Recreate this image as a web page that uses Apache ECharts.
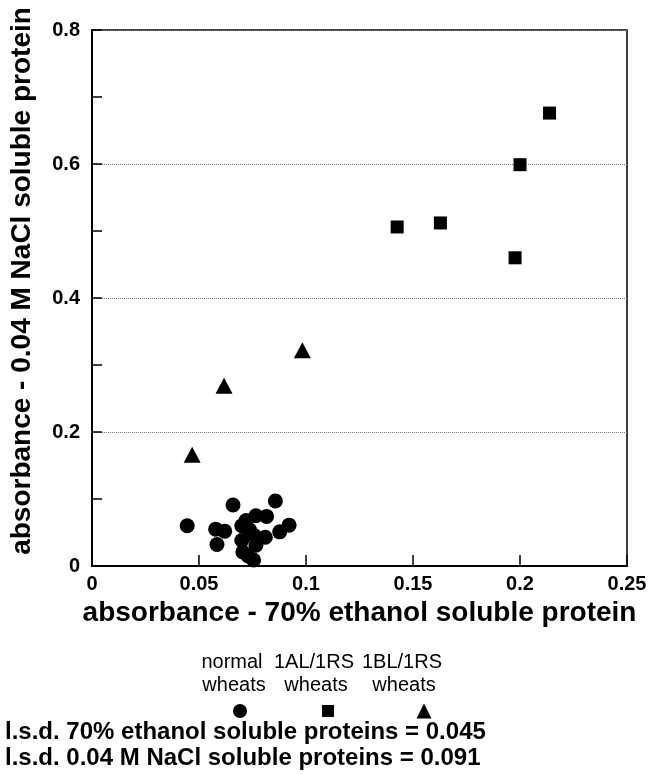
<!DOCTYPE html>
<html>
<head>
<meta charset="utf-8">
<script src="https://cdn.jsdelivr.net/npm/echarts@6/dist/echarts.min.js"></script>
<style>
html, body { margin: 0; padding: 0; background: #fff; }
#main { width: 651px; height: 774px; }
</style>
</head>
<body>
<div id="main"></div>
<script>
// x = absorbance 70% ethanol, y = absorbance 0.04 M NaCl
var normalWheats = [
  [0.0445, 0.060], [0.0659, 0.091], [0.0857, 0.097], [0.0578, 0.055],
  [0.0620, 0.052], [0.0584, 0.032], [0.0700, 0.060], [0.0720, 0.068],
  [0.0766, 0.075], [0.0816, 0.074], [0.0921, 0.061], [0.0877, 0.051],
  [0.0810, 0.043], [0.0766, 0.031], [0.0700, 0.038], [0.0736, 0.054],
  [0.0705, 0.021], [0.0755, 0.009], [0.0730, 0.015], [0.0760, 0.045]
];
var wheats1AL = [
  [0.1426, 0.506], [0.1628, 0.512], [0.1977, 0.460], [0.2000, 0.599], [0.2138, 0.676]
];
var wheats1BL = [
  [0.0468, 0.166], [0.0617, 0.269], [0.0983, 0.322]
];
var legendTop = ['normal', '1AL/1RS', '1BL/1RS'];
var legendBottom = ['wheats', 'wheats', 'wheats'];
var lsdLines = [
  'l.s.d. 70% ethanol soluble proteins = 0.045',
  'l.s.d. 0.04 M NaCl soluble proteins = 0.091'
];
var xMin = 0, xMax = 0.25, xStep = 0.05;
var yMin = 0, yMax = 0.8, yStep = 0.2;

var chart = echarts.init(document.getElementById('main'));
var font = 'Liberation Sans';
var legendX = [232, 314, 402];
var iconX = [235, 323, 419];

var graphics = [];
for (var i = 0; i < legendTop.length; i++) {
  graphics.push({ type: 'text', x: legendX[i], y: 662, style: {
    text: legendTop[i], font: '20px "Liberation Sans"', fill: '#000',
    textAlign: 'center', textVerticalAlign: 'middle' } });
  graphics.push({ type: 'text', x: legendX[i] + 2, y: 685, style: {
    text: legendBottom[i], font: '20px "Liberation Sans"', fill: '#000',
    textAlign: 'center', textVerticalAlign: 'middle' } });
}
for (var j = 0; j < lsdLines.length; j++) {
  graphics.push({ type: 'text', x: 5, y: 732 + j * 26, style: {
    text: lsdLines[j], font: 'bold 24px "Liberation Sans"', fill: '#000',
    textAlign: 'left', textVerticalAlign: 'middle' } });
}

function legendFor(name, icon, cx, size) {
  return {
    data: [{ name: name, icon: icon }],
    left: cx - size / 2, top: 706 - size / 2,
    itemWidth: size, itemHeight: size, itemGap: 0,
    itemStyle: { color: '#000', opacity: 1 },
    formatter: function () { return ''; },
    selectedMode: false
  };
}

var option = {
  animation: false,
  backgroundColor: '#fff',
  textStyle: { fontFamily: font },
  grid: {
    left: 88, right: 24, top: 30, bottom: 208,
    show: true, borderColor: '#000', borderWidth: 1.5
  },
  legend: [
    legendFor('normal wheats', 'circle', iconX[0], 14),
    legendFor('1AL/1RS wheats', 'rect', iconX[1], 12),
    legendFor('1BL/1RS wheats', 'triangle', iconX[2], 15)
  ],
  xAxis: {
    type: 'value', min: xMin, max: xMax, interval: xStep,
    name: 'absorbance - 70% ethanol soluble protein',
    nameLocation: 'middle', nameGap: 30,
    nameTextStyle: { fontSize: 28, fontWeight: 'bold', color: '#000' },
    axisLine: { lineStyle: { color: '#000', width: 2 } },
    axisTick: { inside: true, length: 11, lineStyle: { color: '#000', width: 1.5 } },
    axisLabel: { fontSize: 20, fontWeight: 'bold', color: '#000', margin: 8 },
    splitLine: { show: false }
  },
  yAxis: {
    type: 'value', min: yMin, max: yMax, interval: yStep,
    name: 'absorbance - 0.04 M NaCl soluble protein',
    nameLocation: 'middle', nameGap: 56,
    nameTextStyle: { fontSize: 28, fontWeight: 'bold', color: '#000', padding: [0, 0, 0, 34] },
    axisLine: { lineStyle: { color: '#000', width: 2 } },
    axisTick: { inside: true, length: 10, lineStyle: { color: '#000', width: 1.5 } },
    minorTick: { show: true, splitNumber: 2, length: 10, lineStyle: { color: '#000', width: 1.5 } },
    axisLabel: { fontSize: 20, fontWeight: 'bold', color: '#000', margin: 12 },
    splitLine: { lineStyle: { color: '#777', width: 1, type: 'dotted' } }
  },
  graphic: graphics,
  series: [
    { name: 'normal wheats', type: 'scatter', symbol: 'circle', symbolSize: 15,
      itemStyle: { color: '#000', opacity: 1 }, data: normalWheats },
    { name: '1AL/1RS wheats', type: 'scatter', symbol: 'rect', symbolSize: 13,
      itemStyle: { color: '#000', opacity: 1 }, data: wheats1AL },
    { name: '1BL/1RS wheats', type: 'scatter', symbol: 'triangle', symbolSize: [17, 16],
      itemStyle: { color: '#000', opacity: 1 }, data: wheats1BL }
  ]
};
chart.setOption(option);
</script>
</body>
</html>
